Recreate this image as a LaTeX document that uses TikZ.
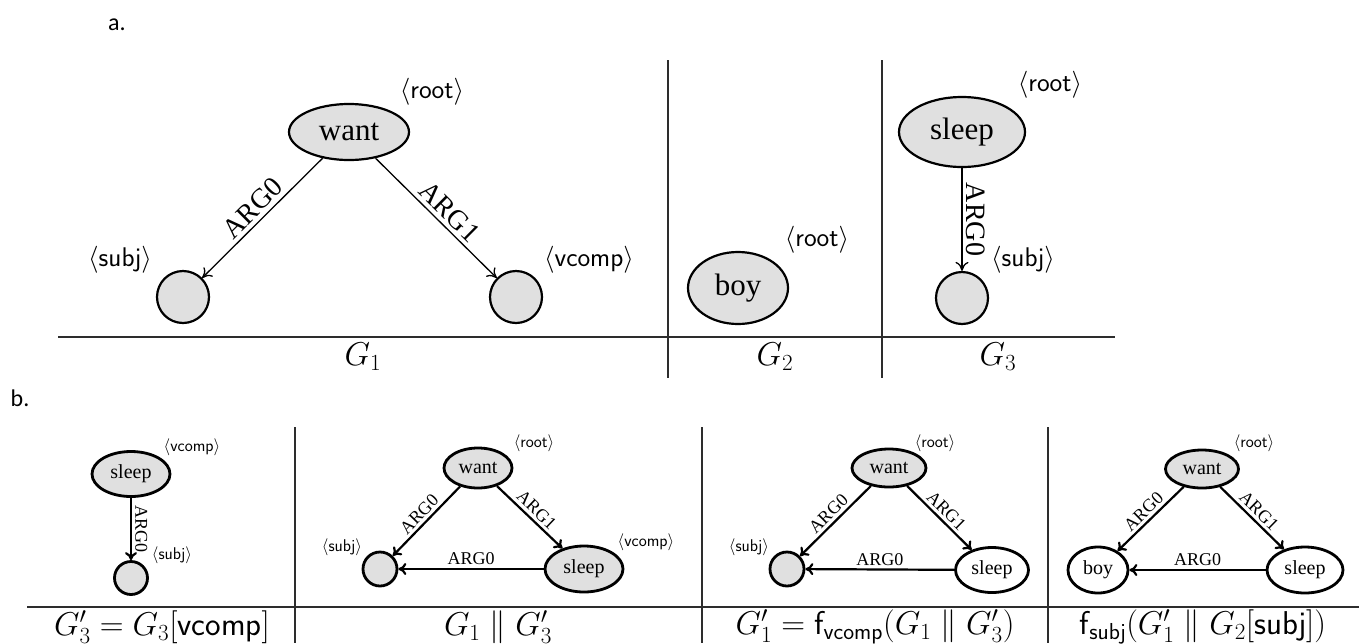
\RequirePackage{fix-cm}
\documentclass[tikz,border=0pt]{standalone}
\usepackage{fontspec}
\newfontfamily\timesf{Liberation Serif}
\newfontfamily\calf{Carlito}
\usetikzlibrary{shapes.geometric,arrows.meta}
\definecolor{nodefill}{RGB}{224,224,224}
\definecolor{linegray}{RGB}{45,45,45}
\newcommand\angl[1]{$\langle\mathsf{#1}\rangle$}
\begin{document}
\begin{tikzpicture}[x=1pt,y=-1pt,
  topnode/.style={ellipse,draw=black,line width=2.2pt,fill=nodefill,inner sep=0pt,font=\timesf\fontsize{31}{36}\selectfont},
  topcirc/.style={circle,draw=black,line width=2.2pt,fill=nodefill,inner sep=0pt,minimum size=52pt},
  topedge/.style={line width=1.3pt,-{To[length=9pt,width=13pt]}},
  toplab/.style={font=\timesf\fontsize{28}{32}\selectfont,sloped,above,inner sep=4pt},
  topang/.style={font=\fontsize{27}{30}\selectfont,inner sep=0pt},
  capt/.style={font=\fontsize{33}{38}\selectfont,inner sep=0pt},
  divline/.style={line width=1.3pt,draw=linegray},
  botnode/.style={ellipse,draw=black,line width=2.8pt,fill=nodefill,inner sep=0pt,font=\timesf\fontsize{20}{24}\selectfont},
  whitenode/.style={botnode,fill=white},
  botcirc/.style={circle,draw=black,line width=2.8pt,fill=nodefill,inner sep=0pt,minimum size=33pt},
  botedge/.style={line width=2.2pt,-{To[length=8pt,width=12pt]}},
  botlab/.style={font=\timesf\fontsize{18}{21}\selectfont,sloped,above,inner sep=3pt},
  botang/.style={font=\fontsize{17}{20}\selectfont,inner sep=0pt},
  partlab/.style={font=\calf\fontsize{24}{28}\selectfont,inner sep=0pt}
]
\useasboundingbox (0,0) rectangle (1359,643);

% part labels
\node[partlab] (pa) at (117,25) {a.};
\node[partlab] (pb) at (20,398) {b.};

% ---------- part a: frame ----------
\draw[divline] (58,337) -- (1115,337);
\draw[divline] (668,60) -- (668,378);
\draw[divline] (882,60) -- (882,378);

% G1
\node[topnode,minimum width=120pt,minimum height=56pt] (want1) at (349,132) {want};
\node[topcirc] (subj1) at (183,297) {};
\node[topcirc] (vcomp1) at (516,297) {};
\node[topang] (root1) at (432,92) {\angl{root}};
\node[topang] (subjl1) at (120,260) {\angl{subj}};
\node[topang] (vcompl1) at (589,260) {\angl{vcomp}};
\draw[topedge] (want1) -- node[toplab] {ARG0} (subj1);
\draw[topedge] (want1) -- node[toplab,pos=0.53] {ARG1} (vcomp1);
\node[capt] (capG1) at (363,357) {$G_1$};

% G2
\node[topnode,minimum width=100pt,minimum height=72pt] (boy2) at (738,288) {boy};
\node[topang] (root2) at (817,240) {\angl{root}};
\node[capt] (capG2) at (775,357) {$G_2$};

% G3
\node[topnode,minimum width=126pt,minimum height=70pt] (sleep3) at (962,132) {sleep};
\node[topcirc] (subj3) at (962,298) {};
\node[topang] (root3) at (1050,85) {\angl{root}};
\node[topang] (subjl3) at (1023,260) {\angl{subj}};
\draw[topedge] (sleep3) -- node[toplab] {ARG0} (subj3);
\node[capt] (capG3) at (998,357) {$G_3$};

% ---------- part b: frame ----------
\draw[divline,line width=1.6pt] (27,607) -- (1359,607);
\draw[divline,line width=1.6pt] (295,427) -- (295,643);
\draw[divline,line width=1.6pt] (702,427) -- (702,643);
\draw[divline,line width=1.6pt] (1048,427) -- (1048,643);

% panel 1
\node[botnode,minimum width=78pt,minimum height=45pt] (b1sleep) at (131,474) {sleep};
\node[botcirc] (b1subj) at (131,578) {};
\node[botang] (b1vc) at (192,447) {\angl{vcomp}};
\node[botang] (b1sj) at (172,555) {\angl{subj}};
\draw[botedge] (b1sleep) -- node[botlab] {ARG0} (b1subj);
\node[capt] (cap1) at (162,627) {$G'_3 = G_3[\mathsf{vcomp}]$};

% panel 2
\node[botnode,minimum width=68pt,minimum height=40pt] (b2want) at (478,468) {want};
\node[botcirc,minimum size=34pt] (b2subj) at (380,569) {};
\node[botnode,minimum width=78pt,minimum height=46pt] (b2sleep) at (584,569) {sleep};
\node[botang] (b2root) at (534,443) {\angl{root}};
\node[botang] (b2sj) at (342,547) {\angl{subj}};
\node[botang] (b2vc) at (646,542) {\angl{vcomp}};
\draw[botedge] (b2want) -- node[botlab] {ARG0} (b2subj);
\draw[botedge] (b2want) -- node[botlab] {ARG1} (b2sleep);
\draw[botedge] (b2sleep) -- node[botlab] {ARG0} (b2subj);
\node[capt] (cap2) at (498,627) {$G_1 \parallel G'_3$};

% panel 3
\node[botnode,minimum width=74pt,minimum height=38pt] (b3want) at (889,468) {want};
\node[botcirc,minimum size=34pt] (b3subj) at (787,569) {};
\node[whitenode,minimum width=73pt,minimum height=45pt] (b3sleep) at (992,570) {sleep};
\node[botang] (b3root) at (935,443) {\angl{root}};
\node[botang] (b3sj) at (749,547) {\angl{subj}};
\draw[botedge] (b3want) -- node[botlab] {ARG0} (b3subj);
\draw[botedge] (b3want) -- node[botlab] {ARG1} (b3sleep);
\draw[botedge] (b3sleep) -- node[botlab] {ARG0} (b3subj);
\node[capt] (cap3) at (875,627) {$G'_1 = \mathsf{f}_{\mathsf{vcomp}}(G_1 \parallel G'_3)$};

% panel 4
\node[botnode,minimum width=73pt,minimum height=38pt] (b4want) at (1202,469) {want};
\node[whitenode,minimum width=60pt,minimum height=46pt] (b4boy) at (1098,570) {boy};
\node[whitenode,minimum width=76pt,minimum height=46pt] (b4sleep) at (1305,570) {sleep};
\node[botang] (b4root) at (1254,443) {\angl{root}};
\draw[botedge] (b4want) -- node[botlab] {ARG0} (b4boy);
\draw[botedge] (b4want) -- node[botlab] {ARG1} (b4sleep);
\draw[botedge] (b4sleep) -- node[botlab] {ARG0} (b4boy);
\node[capt] (cap4) at (1203,627) {$\mathsf{f}_{\mathsf{subj}}(G'_1 \parallel G_2[\mathsf{subj}])$};
\end{tikzpicture}
\end{document}
